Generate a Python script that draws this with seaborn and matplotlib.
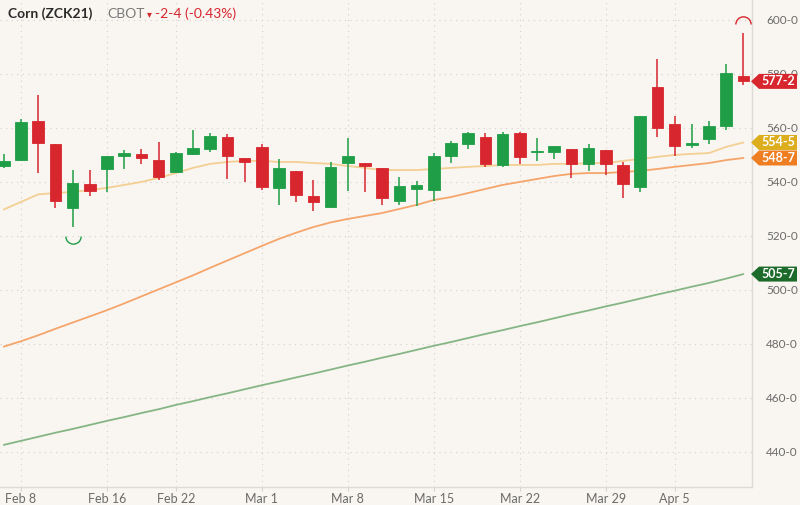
import numpy as np
import pandas as pd
import matplotlib
matplotlib.use("Agg")
import matplotlib.pyplot as plt
import seaborn as sns
from matplotlib.patches import Polygon
from matplotlib.path import Path
from matplotlib.transforms import IdentityTransform

# ---------------- data ----------------
dates = ["Feb 5", "Feb 8", "Feb 9", "Feb 10", "Feb 11", "Feb 12", "Feb 16", "Feb 17", "Feb 18", "Feb 19",
         "Feb 22", "Feb 23", "Feb 24", "Feb 25", "Feb 26", "Mar 1", "Mar 2", "Mar 3", "Mar 4", "Mar 5",
         "Mar 8", "Mar 9", "Mar 10", "Mar 11", "Mar 12", "Mar 15", "Mar 16", "Mar 17", "Mar 18", "Mar 19",
         "Mar 22", "Mar 23", "Mar 24", "Mar 25", "Mar 26", "Mar 29", "Mar 30", "Mar 31", "Apr 1", "Apr 5",
         "Apr 6", "Apr 7", "Apr 8", "Apr 9"]
opens = [545.9, 548.1, 562.6, 554.1, 530.4, 539.3, 544.8, 549.6, 550.4, 548.1,
         543.7, 550.4, 552.2, 556.7, 548.9, 553.0, 537.8, 544.1, 534.8, 530.7,
         547.0, 547.0, 545.2, 533.0, 537.4, 537.0, 549.6, 554.1, 556.7, 546.3,
         558.1, 551.2, 551.1, 552.2, 546.7, 551.9, 546.3, 538.1, 575.2, 561.5,
         553.7, 555.9, 560.7, 579.3]
highs = [550.4, 563.3, 572.2, 554.1, 544.4, 544.4, 549.6, 551.9, 552.2, 554.8,
         551.1, 559.3, 558.1, 557.8, 548.9, 554.1, 548.5, 544.1, 540.7, 547.4,
         556.3, 547.0, 545.2, 541.9, 540.4, 550.7, 555.2, 558.5, 558.1, 558.5,
         558.5, 556.3, 553.3, 552.2, 554.1, 551.9, 547.4, 564.4, 585.6, 564.4,
         561.5, 562.6, 583.7, 595.2]
lows = [545.2, 547.8, 543.3, 530.4, 523.3, 534.8, 536.3, 544.8, 546.7, 540.7,
        543.3, 550.0, 551.1, 541.1, 540.0, 537.0, 531.5, 532.6, 529.3, 530.4,
        536.7, 536.3, 531.5, 531.5, 531.1, 533.0, 547.0, 552.2, 545.6, 545.6,
        546.7, 547.8, 548.5, 541.5, 544.1, 542.6, 534.1, 536.3, 556.7, 549.6,
        552.6, 554.1, 559.3, 575.9]
closes = [547.8, 562.2, 554.4, 533.0, 539.6, 536.7, 549.6, 550.7, 548.9, 541.9,
          550.7, 552.6, 557.0, 549.6, 547.4, 538.1, 545.2, 535.2, 532.6, 545.6,
          549.6, 545.9, 534.1, 538.5, 538.9, 549.6, 554.4, 558.1, 546.7, 557.8,
          549.3, 551.4, 553.3, 546.7, 552.6, 546.7, 539.3, 564.4, 560.0, 553.3,
          554.4, 560.7, 580.4, 577.25]
ma20 = [529.8, 532.6, 535.4, 535.9, 536.3, 537.0, 537.8, 538.9, 540.0, 541.5,
        543.3, 545.2, 546.7, 547.4, 547.8, 547.8, 547.4, 547.4, 547.0, 546.7,
        545.9, 545.2, 544.4, 544.4, 544.4, 544.8, 545.2, 545.6, 545.9, 546.3,
        546.3, 546.3, 546.7, 546.7, 547.0, 547.0, 547.8, 548.5, 549.3, 550.0,
        550.4, 550.7, 553.0, 554.625]
ma50 = [479.0, 481.0, 483.2, 485.6, 487.9, 490.2, 492.5, 495.0, 497.6, 500.2,
        502.8, 505.4, 508.2, 510.9, 513.6, 516.3, 518.9, 521.2, 523.3, 525.0,
        526.3, 527.4, 528.5, 530.0, 531.5, 533.3, 534.4, 535.9, 537.4, 538.9,
        540.0, 541.1, 542.2, 543.0, 543.3, 543.3, 543.7, 544.1, 544.8, 545.6,
        546.3, 547.0, 548.1, 548.875]
ma200 = [442.6, 444.1, 445.6, 447.1, 448.5, 450.0, 451.5, 452.9, 454.4, 455.8,
         457.4, 458.8, 460.3, 461.7, 463.2, 464.7, 466.1, 467.6, 469.0, 470.5,
         472.0, 473.4, 474.9, 476.3, 477.8, 479.3, 480.7, 482.2, 483.7, 485.1,
         486.6, 488.0, 489.5, 491.0, 492.4, 493.9, 495.3, 496.8, 498.3, 499.7,
         501.2, 502.6, 504.2, 505.875]
tick_dates = ["Feb 8", "Feb 16", "Feb 22", "Mar 1", "Mar 8", "Mar 15", "Mar 22", "Mar 29", "Apr 5"]
y_ticks = [440, 460, 480, 500, 520, 540, 560, 580, 600]
tags = [(577.25, "577-2"), (554.625, "554-5"), (548.875, "548-7"), (505.875, "505-7")]

# ---------------- style ----------------
BG = "#f9f6f1"
UP = "#1f9e47"
DOWN = "#d7262e"
C20 = "#f3cf93"
C50 = "#f5a56b"
C200 = "#86b585"
TAG_COLORS = [DOWN, "#dcad1c", "#ee7e21", "#1d6b2b"]

sns.set_theme(style="white")
plt.rcParams["font.family"] = ["Lato", "DejaVu Sans"]

df = pd.DataFrame({"date": dates, "open": opens, "high": highs, "low": lows, "close": closes,
                   "ma20": ma20, "ma50": ma50, "ma200": ma200})
df["i"] = np.arange(len(df))

fig = plt.figure(figsize=(8, 5.05), dpi=100, facecolor=BG)
ax = fig.add_axes([0, 18 / 505, 752 / 800, 487 / 505])
ax.set_facecolor(BG)

# moving averages
sns.lineplot(data=df, x="i", y="ma200", ax=ax, color=C200, lw=1.3, zorder=2)
sns.lineplot(data=df, x="i", y="ma50", ax=ax, color=C50, lw=1.3, zorder=2)
sns.lineplot(data=df, x="i", y="ma20", ax=ax, color=C20, lw=1.3, zorder=2)

# candles
up = df["close"] >= df["open"]
colors = np.where(up, UP, DOWN)
ax.vlines(df["i"], df["low"], df["high"], colors=colors, lw=1.1, zorder=3)
body_bottom = np.minimum(df["open"], df["close"])
body_h = np.maximum(np.abs(df["close"] - df["open"]), 0.35)
ax.bar(df["i"], body_h, bottom=body_bottom, width=0.68, color=colors, edgecolor=colors,
       lw=0.6, zorder=4)

# high / low markers
lo_i = int(np.argmin(lows))
hi_i = int(np.argmax(highs))
u_path = Path.arc(180, 360)
n_path = Path.arc(0, 180)
ax.plot([lo_i], [lows[lo_i] - 3.2], marker=u_path, ms=11, mfc="none", mec=UP, mew=1.0, ls="none", zorder=5)
ax.plot([hi_i], [highs[hi_i] + 3.2], marker=n_path, ms=11, mfc="none", mec=DOWN, mew=1.0, ls="none", zorder=5)

# axes setup
ax.set_xlim(-0.22, 43.5)
ax.set_ylim(427.0, 607.4)
tick_pos = [dates.index(d) for d in tick_dates]
ax.set_xticks(tick_pos)
ax.set_xticklabels(tick_dates)
ax.set_yticks(y_ticks)
ax.set_yticklabels([f"{v}-0" for v in y_ticks])
ax.yaxis.tick_right()
ax.tick_params(axis="y", length=0, pad=10, labelsize=8.5, labelcolor="#6b6b6b")
ax.tick_params(axis="x", length=3, width=0.8, color="#d6d3ce", pad=1.5, labelsize=9, labelcolor="#6b6b6b",
               bottom=True)
ax.set_xlabel("")
ax.set_ylabel("")
ax.grid(True, color="#d3d0ca", lw=0.8, ls=(0, (1, 4)))
for s in ["left", "top"]:
    ax.spines[s].set_visible(False)
for s in ["right", "bottom"]:
    ax.spines[s].set_color("#dedbd6")
    ax.spines[s].set_linewidth(1.0)

# title
ty = 1 - 14 / 505
fig.text(8 / 800, ty, "Corn (ZCK21)", fontsize=10, fontweight="bold", color="#2b2b2b", va="center")
fig.text(107 / 800, ty, "CBOT", fontsize=10, color="#7a7a7a", va="center")
fig.text(147 / 800, ty, "▾", fontsize=7, color=DOWN, va="center", family=["DejaVu Sans"])
fig.text(155 / 800, ty, "-2-4 (-0.43%)", fontsize=10, color=DOWN, va="center")

# price tags on the right
fig.canvas.draw()
for (val, txt), col in zip(tags, TAG_COLORS):
    _, py = ax.transData.transform((0, val))
    h = 7.5
    x0, x1, x2 = 751, 759, 797
    poly = Polygon([[x0, py], [x1, py + h], [x2, py + h], [x2, py - h], [x1, py - h]], closed=True,
                   transform=IdentityTransform(), facecolor=col, edgecolor="none", zorder=10)
    fig.patches.append(poly)
    poly.set_figure(fig)
    fig.text((x1 + x2) / 2 / 800, py / 505, txt, color="white", fontsize=9, fontweight="bold",
             ha="center", va="center", zorder=11)

fig.savefig("out.png", dpi=100, facecolor=BG)
